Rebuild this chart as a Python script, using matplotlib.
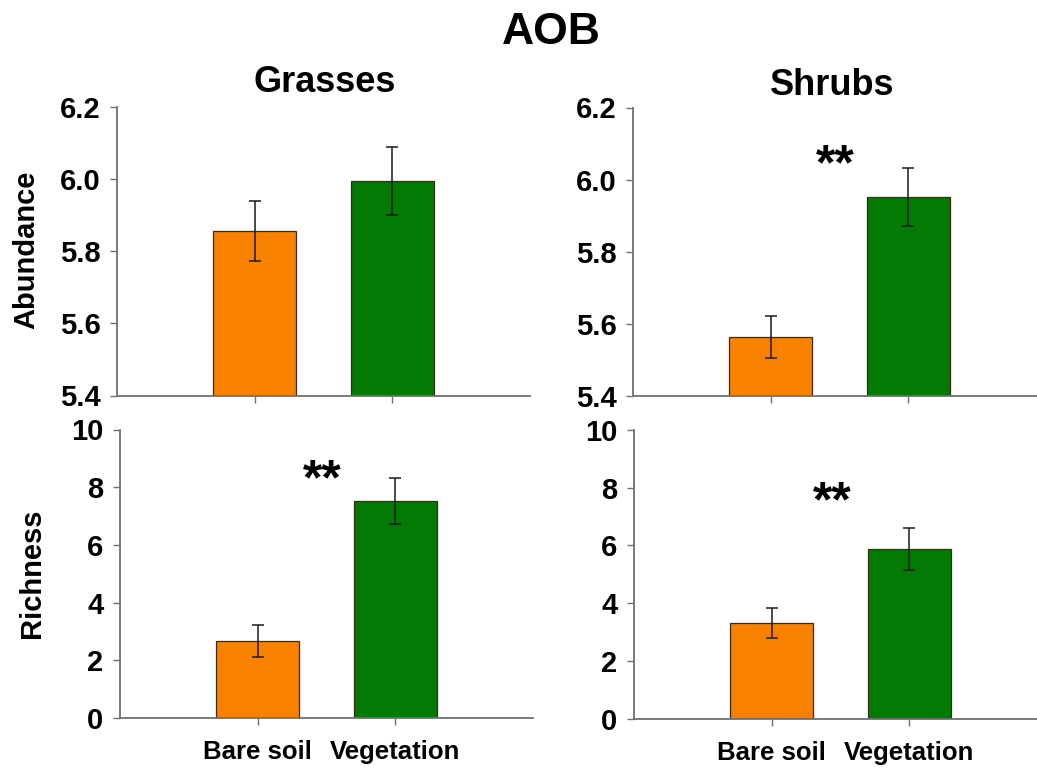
import matplotlib
matplotlib.use("Agg")
import matplotlib.pyplot as plt

plt.rcParams['font.family'] = ['Liberation Sans', 'DejaVu Sans']
plt.rcParams['font.weight'] = 'bold'

categories = ["Bare soil", "Vegetation"]
abund_grass = [5.857, 5.995]
abund_grass_err = [0.083, 0.094]
abund_shrub = [5.564, 5.952]
abund_shrub_err = [0.058, 0.080]
rich_grass = [2.66, 7.52]
rich_grass_err = [0.56, 0.81]
rich_shrub = [3.31, 5.87]
rich_shrub_err = [0.51, 0.74]
abund_ticks = [5.4, 5.6, 5.8, 6.0, 6.2]
rich_ticks = [0, 2, 4, 6, 8, 10]
colors = ["#F88200", "#037A03"]

W, H = 1037, 769
fig = plt.figure(figsize=(W / 100, H / 100), dpi=100)

def rect(x0, x1, ytop, ybot):
    return [x0 / W, 1 - ybot / H, (x1 - x0) / W, (ybot - ytop) / H]

axes_specs = [
    (rect(117, 530, 107, 395.5), abund_grass, abund_grass_err, abund_ticks, (5.4, 6.2), None, False, "{:.1f}"),
    (rect(633, 1046, 107.5, 396), abund_shrub, abund_shrub_err, abund_ticks, (5.4, 6.2), (0.47, 6.036), False, "{:.1f}"),
    (rect(120, 533, 429.5, 718), rich_grass, rich_grass_err, rich_ticks, (0, 10), (0.47, 8.2), True, "{:d}"),
    (rect(634, 1047, 430, 718.5), rich_shrub, rich_shrub_err, rich_ticks, (0, 10), (0.44, 7.45), True, "{:d}"),
]

spine_col = "#707070"
for r, vals, errs, ticks, ylim, star, show_x, fmt in axes_specs:
    ax = fig.add_axes(r)
    x = list(range(len(categories)))
    ax.bar(x, vals, width=0.6, color=colors, edgecolor="#3a2a1a", linewidth=0.9, zorder=2)
    ax.errorbar(x, vals, yerr=errs, fmt="none", ecolor="#1a1a1a", elinewidth=1.1,
                capsize=4, capthick=1.1, zorder=3)
    ax.set_xlim(-1, 2)
    ax.set_ylim(*ylim)
    ax.set_yticks(ticks)
    ax.set_yticklabels([fmt.format(t) for t in ticks], fontsize=21, fontweight="bold")
    ax.set_xticks(x)
    if show_x:
        ax.set_xticklabels(categories, fontsize=18.5, fontweight="bold")
    else:
        ax.set_xticklabels([])
    for s in ["top", "right"]:
        ax.spines[s].set_visible(False)
    for s in ["left", "bottom"]:
        ax.spines[s].set_color(spine_col)
        ax.spines[s].set_linewidth(1.3)
    ax.tick_params(axis="both", direction="out", length=5, width=1, color=spine_col)
    ax.tick_params(axis="y", pad=7)
    ax.tick_params(axis="x", pad=11)
    if star is not None:
        ax.text(star[0], star[1], "**", ha="center", va="center", fontsize=36, fontweight="bold")

fig.text(551 / W, 1 - 44 / H, "AOB", ha="center", va="baseline", fontsize=32, fontweight="bold")
fig.text(325 / W, 1 - 92 / H, "Grasses", ha="center", va="baseline", fontsize=26, fontweight="bold")
fig.text(832 / W, 1 - 95 / H, "Shrubs", ha="center", va="baseline", fontsize=26, fontweight="bold")
fig.text(26 / W, 1 - 250 / H, "Abundance", ha="center", va="center", rotation=90, fontsize=21, fontweight="bold")
fig.text(32 / W, 1 - 573 / H, "Richness", ha="center", va="center", rotation=90, fontsize=21, fontweight="bold")

fig.savefig("out.png", dpi=100)
